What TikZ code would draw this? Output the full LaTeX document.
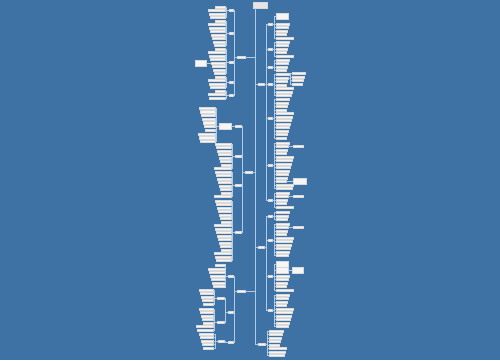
\documentclass[tikz,border=0pt]{standalone}
\usetikzlibrary{positioning}

\definecolor{bgblue}{RGB}{62,114,165}
\definecolor{linkblue}{RGB}{175,203,232}
\tikzset{
  box/.style={draw=gray!30, fill=white!93!gray, line width=0.2pt, inner sep=0pt, minimum height=0.046cm},
  tall/.style={minimum height=0.12cm},
  wd/.style={minimum width=#1*0.02cm},
  link/.style={draw=linkblue, line width=0.3pt},
  rootbox/.style={box, fill=white!80!gray, minimum height=0.13cm, wd=14},
}

% leaves hanging to the left / right of a parent node
\newcommand{\leafsleft}[3]{%
  \foreach \y [count=\k] in {#3} {
    \pgfmathsetmacro\w{10+mod(\k*7+#2,8)}
    \node[box, wd=\w, anchor=east] (#1-\k) at (#2,\y) {};
    \draw[link] (#1.west) -- ++(-2,0) |- (#1-\k.east);
  }}
\newcommand{\leafsright}[3]{%
  \foreach \y [count=\k] in {#3} {
    \pgfmathsetmacro\w{10+mod(\k*7+#2,8)}
    \node[box, wd=\w, anchor=west] (#1-\k) at (#2,\y) {};
    \draw[link] (#1.east) -- ++(2,0) |- (#1-\k.west);
  }}

\begin{document}
\begin{tikzpicture}[x=0.02cm, y=-0.02cm]
  \fill[bgblue] (0,0) rectangle (500,360);
  \useasboundingbox (0,0) rectangle (500,360);

  % root and spine
  \node[rootbox] (r) at (260,5) {};
  \coordinate (hub) at (255,8);

  % main branches
  \node[box, wd=8, anchor=east] (A) at (245,57) {};
  \node[box, wd=7, anchor=east] (B) at (252,172) {};
  \node[box, wd=8, anchor=east] (C) at (245,291) {};
  \node[box, wd=6, anchor=west] (D) at (258,84) {};
  \node[box, wd=6, anchor=west] (E) at (258,247) {};
  \node[box, wd=7, anchor=west] (F) at (258,344) {};
  \foreach \m in {A,B,C} \draw[link] (hub) |- (\m.east);
  \foreach \m in {D,E,F} \draw[link] (hub) |- (\m.west);

  % left: A
  \foreach \n/\y in {a1/10,a2/33,a3/62,a4/82,a5/95} {
    \node[box, wd=4, anchor=east] (\n) at (233,\y) {};
    \draw[link] (A.west) -- ++(-2,0) |- (\n.east);
  }
  \leafsleft{a1}{225}{7,10.5,14,17.5}
  \leafsleft{a2}{225}{21,24.5,28,31.5,35,38.5,42,45.5}
  \leafsleft{a3}{225}{49,52.5,56,59.5,63,66.5,70,73.5}
  \leafsleft{a4}{225}{77,80.5,84,87.5}
  \leafsleft{a5}{225}{91,94.5,98}
  \node[box, tall, wd=11, anchor=east] (a3x) at (206,63) {};
  \draw[link] (a3-5.west) -- (a3x.east);

  % left: B
  \foreach \n/\y in {b1/126,b2/156,b3/185,b4/232} {
    \node[box, wd=6, anchor=east] (\n) at (241,\y) {};
    \draw[link] (B.west) -- ++(-2,0) |- (\n.east);
  }
  \node[box, tall, wd=12, anchor=east] (b1s) at (231,126) {};
  \draw[link] (b1.west) -- (b1s.east);
  \leafsleft{b1s}{215}{108,111.7,115.4,119.1,122.8,126.5,130.2,133.9,137.6,141.3}
  \leafsleft{b2}{231}{144,147.5,151,154.5,158,161.5,165,168.5}
  \leafsleft{b3}{231}{172,175.5,179,182.5,186,189.5,193,196.5}
  \leafsleft{b4}{231}{201,204.5,208,211.5,215,218.5,222,225.5,229,232.5,236,239.5,243,246.5,250,253.5,257,260.5}

  % left: C
  \foreach \n/\y in {c1/276,c2/312,c3/342} {
    \node[box, wd=5, anchor=east] (\n) at (233,\y) {};
    \draw[link] (C.west) -- ++(-2,0) |- (\n.east);
  }
  \leafsleft{c1}{225}{265.5,269,272.5,276,279.5,283,286.5}
  \node[box, wd=7, anchor=east] (c2a) at (224,298) {};
  \node[box, wd=7, anchor=east] (c2b) at (224,322) {};
  \node[box, wd=6, anchor=east] (c3a) at (224,341) {};
  \draw[link] (c2.west) -- ++(-2,0) |- (c2a.east);
  \draw[link] (c2.west) -- ++(-2,0) |- (c2b.east);
  \draw[link] (c3.west) -- ++(-2,0) |- (c3a.east);
  \leafsleft{c2a}{213}{290,293.5,297,300.5,304}
  \leafsleft{c2b}{213}{309,312.5,316,319.5,323,326.5,330}
  \leafsleft{c3a}{213}{334,337.5,341,344.5,348}

  % right: D
  \foreach \n/\y in {d1/24,d2/49,d3/67,d4/84,d5/118,d6/165,d7/200} {
    \node[box, wd=4, anchor=west] (\n) at (268,\y) {};
    \draw[link] (D.east) -- ++(2,0) |- (\n.west);
  }
  \node[box, tall, wd=12, anchor=west] (d1t) at (276,16) {};
  \draw[link] (d1.east) -- ++(2,0) |- (d1t.west);
  \leafsright{d1}{276}{24,27.5,31,34.5,38}
  \leafsright{d2}{276}{42,45.5,49,52.5,56}
  \leafsright{d3}{276}{60,63.5,67,70.5}
  \leafsright{d4}{276}{74.5,78,81.5,85,88.5,92,95.5}
  \leafsright{d5}{276}{99.5,103,106.5,110,113.5,117,120.5,124,127.5,131,134.5,138}
  \leafsright{d6}{276}{143,146.5,150,153.5,157,160.5,164,167.5,171,174.5,178,181.5,185,188.5}
  \leafsright{d7}{276}{193,196.5,200,203.5,207}
  \leafsright{d4-2}{292}{73.5,77,80.5,84}
  \node[box, wd=10, anchor=west] (d6x) at (293,146.5) {};
  \draw[link] (d6-2.east) -- (d6x.west);
  \node[box, tall, wd=13, anchor=west] (d6y) at (293,181.5) {};
  \draw[link] (d6-12.east) -- (d6y.west);
  \node[box, wd=10, anchor=west] (d7x) at (293,196.5) {};
  \draw[link] (d7-2.east) -- (d7x.west);

  % right: E
  \foreach \n/\y in {e1/216,e2/240,e3/276,e4/310} {
    \node[box, wd=4, anchor=west] (\n) at (268,\y) {};
    \draw[link] (E.east) -- ++(2,0) |- (\n.west);
  }
  \leafsright{e1}{276}{212.5,216,219.5}
  \leafsright{e2}{276}{224,227.5,231,234.5,238,241.5,245,248.5,252,255.5}
  \node[box, tall, wd=12, anchor=west] (e3t) at (276,264) {};
  \node[box, tall, wd=12, anchor=west] (e3u) at (276,270.5) {};
  \draw[link] (e3.east) -- ++(2,0) |- (e3t.west);
  \draw[link] (e3.east) -- ++(2,0) |- (e3u.west);
  \leafsright{e3}{276}{276,279.5,283,286.5,290}
  \leafsright{e4}{276}{295,298.5,302,305.5,309,312.5,316,319.5,323,326.5}
  \node[box, tall, wd=11, anchor=west] (e3v) at (292,270.5) {};
  \draw[link] (e3u.east) -- (e3v.west);
  \node[box, wd=10, anchor=west] (e2x) at (293,227.5) {};
  \draw[link] (e2-2.east) -- (e2x.west);

  % right: F
  \leafsright{F}{269}{331,334.5,338,341.5,345,348.5,352,355.5}
\end{tikzpicture}
\end{document}
